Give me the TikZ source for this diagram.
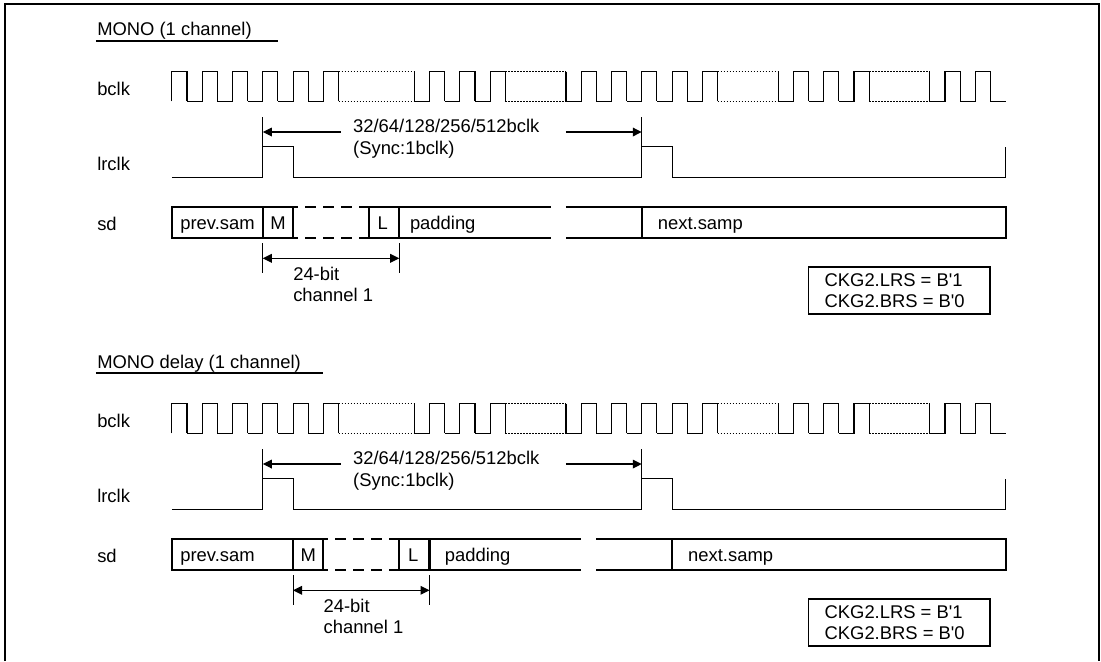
\documentclass[tikz,border=0pt]{standalone}
\usepackage{fontspec}
\setmainfont{Liberation Sans}
\usetikzlibrary{arrows.meta}

\tikzset{
    lbl/.style={anchor=base west, inner sep=0pt, font=\fontsize{18.4}{21.3}\selectfont},
    midlbl/.style={lbl, anchor=base},
    wave/.style={line width=1.1pt},
    dots/.style={line width=1pt, dash pattern=on 1.5pt off 1.5pt},
    bar/.style={line width=2.2pt},
    dim/.style={line width=1.1pt, <->},
}

\begin{document}
\begin{tikzpicture}[>={Triangle[length=9pt,width=8.7pt]}, x=15.16pt, y=-1pt]
    \useasboundingbox (-11.332,0) rectangle (61.293,661);

    % outer frame, open at the bottom
    \draw[line width=1.9pt] (-11,661) -- (-11,4) -- (61.17,4) -- (61.17,661);

    \foreach \g/\yo/\sh/\ttl/\ulen/\padx in
        {1/0/0/{MONO (1 channel)}/7/15.7, 2/332/2/{MONO delay (1 channel)}/10/18.0} {
    \begin{scope}[shift={(0,\yo)}]
        % title and signal names
        \node[lbl] (title\g) at (-4.93,36) {\ttl};
        \draw[line width=1.9pt] (-5,41.3) -- (\ulen,41.3);
        \node[lbl] (bclk\g) at (-4.93,95) {bclk};
        \node[lbl] (lrclk\g) at (-4.93,170) {lrclk};
        \node[lbl] (sd\g) at (-4.93,230.7) {sd};

        % bclk
        \draw[wave] (0,101.3) -- (0,71.7) -- (1,71.7) -- (1,101.3);
        \foreach \n in {2,4,6,8,10,17,19,21,27,29,31,33,35,41,43,45,51,53}
            \draw[wave] (\n-1,101.3) -- (\n,101.3) -- (\n,71.7) -- (\n+1,71.7) -- (\n+1,101.3);
        \draw[wave] (54,101.3) -- (55,101.3);
        \foreach \a/\b in {11/16,22/26,36/40,46/50} {
            \draw[dots] (\a,71.7) -- (\b,71.7);
            \draw[dots] (\a,101.3) -- (\b,101.3);
            \draw[wave] (\b,71.7) -- (\b,101.3);
        }

        % lrclk
        \draw[wave] (0,177.3) -- (6,177.3) -- (6,146.7) -- (8,146.7) -- (8,177.3)
            -- (31,177.3) -- (31,146.7) -- (33,146.7) -- (33,177.3)
            -- (55,177.3) -- (55,146.7);
        \draw[wave] (6,117.3) -- (6,146.7);
        \draw[wave] (31,117.3) -- (31,146.7);

        % period arrows
        \coordinate (perl\g) at (6,132);
        \coordinate (perm\g) at (11.15,132);
        \coordinate (pern\g) at (26,132);
        \coordinate (perr\g) at (31,132);
        \draw[wave,->] (perm\g) -- (perl\g);
        \draw[wave,->] (pern\g) -- (perr\g);
        \node[lbl] (per\g) at (11.95,132.5) {32/64/128/256/512bclk};
        \node[lbl] (sync\g) at (11.95,154.3) {(Sync:1bclk)};

        % sd
        \draw[bar] (6+\sh,237.7) -- (0,237.7) -- (0,207.3) -- (8+\sh,207.3);
        \draw[bar] (6+\sh,237.7) -- (8+\sh,237.7);
        \draw[bar] (6+\sh,207.3) -- (6+\sh,237.7);
        \draw[bar] (8+\sh,207.3) -- (8+\sh,237.7);
        \draw[bar,dash pattern=on 11pt off 7pt,dash phase=6pt] (8+\sh,207.3) -- (13+\sh,207.3);
        \draw[bar,dash pattern=on 11pt off 7pt,dash phase=6pt] (8+\sh,237.7) -- (13+\sh,237.7);
        \draw[bar] (13+\sh,207.3) -- (25+\sh,207.3);
        \draw[bar] (13+\sh,237.7) -- (25+\sh,237.7);
        \draw[bar] (13+\sh,207.3) -- (13+\sh,237.7);
        \draw[bar] (15+\sh,207.3) -- (15+\sh,237.7);
        \draw[bar] (26+\sh,207.3) -- (55,207.3) -- (55,237.7) -- (26+\sh,237.7);
        \draw[bar] (31+\sh,207.3) -- (31+\sh,237.7);
        \node[lbl] (prev\g) at (0.55,229.3) {prev.sam};
        \node[midlbl] (msb\g) at (7+\sh,229.3) {M};
        \node[midlbl] (lsb\g) at (13.92+\sh,229.3) {L};
        \node[lbl] (pad\g) at (\padx,229.3) {padding};
        \node[lbl] (next\g) at (32.05+\sh,229.3) {next.samp};

        % channel width
        \coordinate (wl\g) at (6+\sh,258.3);
        \coordinate (wr\g) at (15+\sh,258.3);
        \draw[wave] (6+\sh,243.3) -- (6+\sh,272.7);
        \draw[wave] (15+\sh,243.3) -- (15+\sh,272.7);
        \draw[dim] (wl\g) -- (wr\g);
        \node[lbl] (bits\g) at (8+\sh,280.7) {24-bit};
        \node[lbl] (chan\g) at (8+\sh,301.7) {channel 1};

        % register settings
        \draw[line width=1.9pt] (42,267.3) rectangle (54,313.7);
        \node[lbl] (lrs\g) at (43.05,286) {CKG2.LRS = B\textquotesingle 1};
        \node[lbl] (brs\g) at (43.05,307.3) {CKG2.BRS = B\textquotesingle 0};
    \end{scope}
    }
\end{tikzpicture}
\end{document}
